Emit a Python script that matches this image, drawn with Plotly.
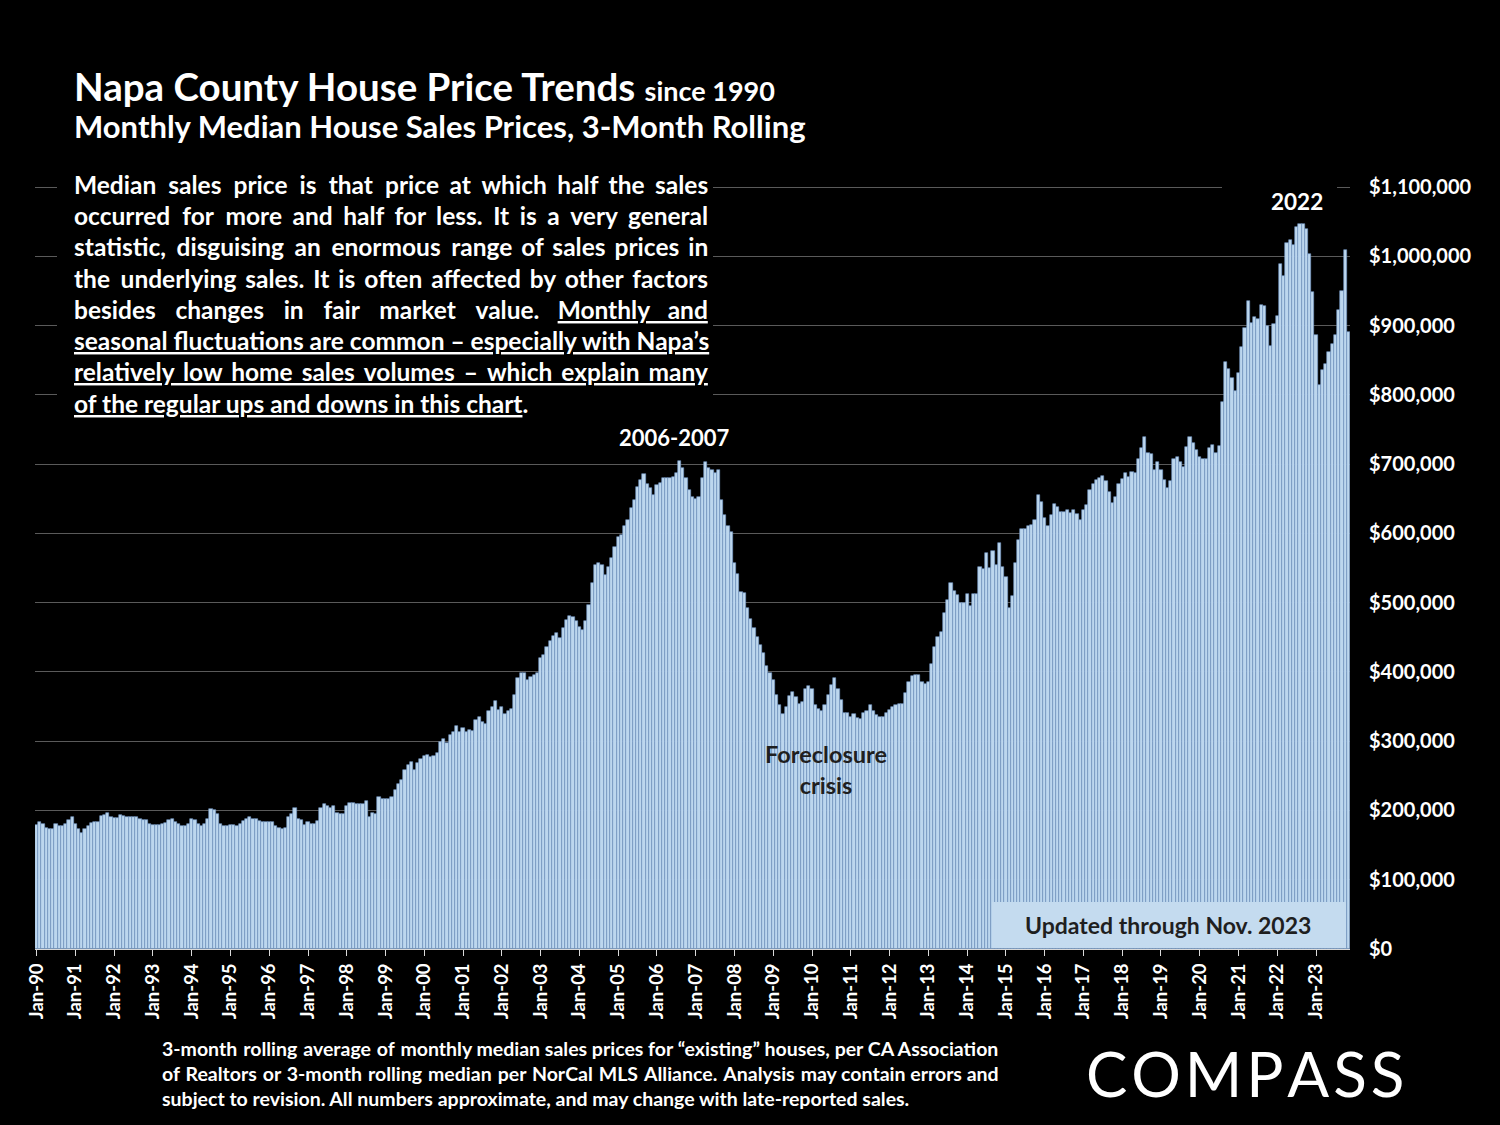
import plotly.graph_objects as go

# Median price, 3-month rolling, in thousands of dollars
p1990 = [179, 183, 180, 174, 173, 173, 181, 177, 177, 181, 186, 190]
p1991 = [181, 173, 167, 173, 177, 182, 184, 184, 192, 193, 197, 190]
p1992 = [189, 189, 193, 192, 190, 191, 191, 191, 188, 186, 186, 181]
p1993 = [179, 179, 179, 181, 182, 186, 188, 184, 181, 177, 178, 181]
p1994 = [187, 186, 181, 178, 181, 187, 202, 200, 195, 181, 178, 178]
p1995 = [179, 179, 178, 181, 185, 187, 190, 187, 188, 185, 184, 184]
p1996 = [184, 184, 178, 174, 173, 174, 190, 195, 204, 187, 186, 179]
p1997 = [184, 181, 181, 185, 203, 210, 207, 203, 206, 196, 195, 195]
p1998 = [206, 211, 211, 210, 210, 210, 214, 191, 196, 195, 219, 216]
p1999 = [216, 216, 220, 229, 238, 244, 258, 266, 270, 259, 269, 275]
p2000 = [279, 280, 277, 279, 283, 299, 303, 297, 309, 314, 322, 313]
p2001 = [319, 314, 316, 315, 331, 335, 328, 325, 343, 350, 358, 345]
p2002 = [350, 340, 343, 347, 367, 391, 398, 398, 389, 393, 396, 398]
p2003 = [420, 424, 436, 444, 452, 456, 449, 463, 475, 481, 480, 473]
p2004 = [465, 461, 473, 497, 528, 554, 557, 554, 540, 552, 564, 580]
p2005 = [595, 598, 610, 619, 636, 648, 667, 677, 686, 672, 665, 655]
p2006 = [670, 673, 680, 680, 680, 682, 687, 705, 694, 680, 663, 653]
p2007 = [649, 652, 680, 703, 694, 692, 687, 691, 648, 627, 610, 602]
p2008 = [557, 542, 516, 514, 492, 477, 463, 451, 439, 427, 408, 398]
p2009 = [388, 367, 352, 339, 350, 365, 371, 364, 353, 356, 376, 380]
p2010 = [376, 352, 347, 343, 352, 367, 381, 391, 376, 359, 341, 341]
p2011 = [335, 339, 333, 332, 341, 344, 352, 343, 338, 335, 335, 341]
p2012 = [345, 349, 352, 354, 354, 369, 386, 394, 396, 396, 386, 382]
p2013 = [386, 412, 436, 451, 458, 485, 504, 528, 517, 511, 500, 500]
p2014 = [512, 495, 513, 513, 552, 548, 571, 550, 575, 554, 586, 552]
p2015 = [537, 492, 509, 557, 590, 607, 607, 611, 612, 619, 655, 645]
p2016 = [622, 610, 627, 642, 638, 631, 631, 634, 629, 634, 628, 620]
p2017 = [634, 641, 663, 672, 677, 680, 683, 675, 660, 644, 653, 672]
p2018 = [678, 687, 682, 689, 687, 707, 723, 739, 716, 715, 692, 703]
p2019 = [692, 677, 665, 675, 707, 710, 703, 696, 725, 739, 730, 720]
p2020 = [710, 707, 707, 723, 728, 716, 726, 790, 848, 838, 824, 805]
p2021 = [832, 869, 897, 936, 904, 913, 910, 930, 928, 899, 870, 903]
p2022 = [914, 989, 971, 1019, 1023, 1016, 1043, 1047, 1047, 1040, 1003, 949]
p2023 = [886, 814, 836, 844, 862, 874, 886, 923, 950, 1009, 891]

years = list(range(1990, 2024))
month_names = ["Jan", "Feb", "Mar", "Apr", "May", "Jun",
               "Jul", "Aug", "Sep", "Oct", "Nov", "Dec"]

tick_labels = ["Jan-90", "Jan-91", "Jan-92", "Jan-93", "Jan-94", "Jan-95",
               "Jan-96", "Jan-97", "Jan-98", "Jan-99", "Jan-00", "Jan-01",
               "Jan-02", "Jan-03", "Jan-04", "Jan-05", "Jan-06", "Jan-07",
               "Jan-08", "Jan-09", "Jan-10", "Jan-11", "Jan-12", "Jan-13",
               "Jan-14", "Jan-15", "Jan-16", "Jan-17", "Jan-18", "Jan-19",
               "Jan-20", "Jan-21", "Jan-22", "Jan-23"]

# juntamos las series anuales
yearly = [p1990, p1991, p1992, p1993, p1994, p1995, p1996, p1997, p1998,
          p1999, p2000, p2001, p2002, p2003, p2004, p2005, p2006, p2007,
          p2008, p2009, p2010, p2011, p2012, p2013, p2014, p2015, p2016,
          p2017, p2018, p2019, p2020, p2021, p2022, p2023]

periods = []
prices = []
for y, vals in zip(years, yearly):
    for m, v in zip(month_names, vals):
        periods.append(f"{m}-{y % 100:02d}")
        prices.append(v * 1000)

# geometria del area de grafico (pixeles)
W, H = 1500, 1125
L, R, T, B = 35, 1350, 187, 949
Y_TOP = 1100000
Y_MAX = 1103000                      # un poco mas para que se vea la grilla superior
PT = B - (B - T) * Y_MAX / Y_TOP     # borde superior real del area
FONT = "Lato"
BAR = "#bdd7ee"
THIN, HAIR = "\u2009", "\u200a"


def fx(x):
    return (x - L) / (R - L)


def fy(y):
    return (B - y) / (B - PT)


def justify(text, n_thin, n_hair):
    # reparte espacios finos entre las palabras para simular justificado
    parts = text.split(" ")
    gaps = len(parts) - 1
    if gaps == 0:
        return text
    out = parts[0]
    for g in range(gaps):
        extra = n_hair // gaps + (1 if g < n_hair % gaps else 0)
        out += " " + THIN * n_thin + HAIR * extra + parts[g + 1]
    return out


fig = go.Figure(go.Bar(
    x=periods,
    y=prices,
    marker=dict(color=BAR, line=dict(color="#7195c4", width=0.6)),
    hoverinfo="x+y",
))

para_lines = [
    "Median sales price is that price at which half the sales",
    "occurred for more and half for less. It is a very general",
    "statistic, disguising an enormous range of sales prices in",
    "the underlying sales. It is often affected by other factors",
    "besides changes in fair market value. <u>Monthly and</u>",
    "<u>seasonal fluctuations are common – especially with Napa’s</u>",
    "<u>relatively low home sales volumes – which explain many</u>",
    "<u>of the regular ups and downs in this chart</u>.",
]
para_y = [184, 215, 246, 278, 309, 340, 371, 403]
para_pad = [(1, 15), (1, 13), (0, 20), (0, 19), (2, 33), (0, 0), (0, 16), (0, 0)]

footer_lines = [
    "3-month rolling average of monthly median sales prices for “existing” houses, per CA Association",
    "of Realtors or 3-month rolling median per NorCal MLS Alliance. Analysis may contain errors and",
    "subject to revision. All numbers approximate, and may change with late-reported sales.",
]
footer_y = [1049, 1074, 1099]
footer_pad = [(0, 4), (0, 11), (0, 0)]

annotations = []
for txt, yy, pad in zip(para_lines, para_y, para_pad):
    annotations.append(dict(
        text=justify(txt, *pad), xref="paper", yref="paper",
        x=fx(72), y=fy(yy), xanchor="left", yanchor="middle",
        showarrow=False,
        font=dict(family=FONT, size=24.5, color="white", weight="bold")))

for txt, yy, pad in zip(footer_lines, footer_y, footer_pad):
    annotations.append(dict(
        text=justify(txt, *pad), xref="paper", yref="paper",
        x=fx(160), y=fy(yy), xanchor="left", yanchor="middle",
        showarrow=False,
        font=dict(family=FONT, size=19.5, color="white", weight="bold")))

annotations += [
    dict(text="Napa County House Price Trends <span style='font-size:27px'>since 1990</span>",
         xref="paper", yref="paper", x=fx(72), y=fy(86), xanchor="left",
         yanchor="middle", showarrow=False,
         font=dict(family=FONT, size=38.5, color="white", weight="bold")),
    dict(text="Monthly Median House Sales Prices, 3-Month Rolling",
         xref="paper", yref="paper", x=fx(72), y=fy(126), xanchor="left",
         yanchor="middle", showarrow=False,
         font=dict(family=FONT, size=31, color="white", weight="bold")),
    dict(text="2006-2007", xref="paper", yref="paper", x=fx(674), y=fy(437),
         xanchor="center", yanchor="middle", showarrow=False,
         font=dict(family=FONT, size=22, color="white", weight="bold")),
    dict(text="2022", xref="paper", yref="paper", x=fx(1297), y=fy(201),
         xanchor="center", yanchor="middle", showarrow=False,
         font=dict(family=FONT, size=22.5, color="white", weight="bold")),
    dict(text="Foreclosure<br>crisis", xref="paper", yref="paper", x=fx(826),
         y=fy(769), xanchor="center", yanchor="middle", showarrow=False,
         font=dict(family=FONT, size=23.5, color="#1f1f1f", weight="bold")),
    dict(text="Updated through Nov. 2023", xref="paper", yref="paper",
         x=fx(1168), y=fy(925), xanchor="center", yanchor="middle",
         showarrow=False,
         font=dict(family=FONT, size=23, color="#1f1f1f", weight="bold")),
    dict(text="C\u200aO\u200aM\u200aP\u200aA\u200aS\u200aS", xref="paper",
         yref="paper", x=fx(1245), y=fy(1073), xanchor="center",
         yanchor="middle", showarrow=False,
         font=dict(family=FONT, size=62, color="white", weight=400)),
]

shapes = [
    # cajas negras que tapan las lineas de grilla
    dict(type="rect", xref="paper", yref="paper", layer="above",
         x0=fx(57), x1=fx(713), y0=fy(168), y1=fy(417),
         fillcolor="black", line=dict(width=0)),
    dict(type="rect", xref="paper", yref="paper", layer="above",
         x0=fx(1222), x1=fx(1337), y0=fy(180), y1=fy(216),
         fillcolor="black", line=dict(width=0)),
    dict(type="rect", xref="paper", yref="paper", layer="above",
         x0=fx(992), x1=fx(1346), y0=fy(902), y1=fy(948),
         fillcolor="#c4dbef", line=dict(width=0)),
]

fig.update_layout(
    width=W, height=H,
    paper_bgcolor="black", plot_bgcolor="black",
    margin=dict(l=L, r=W - R, t=PT, b=H - B),
    bargap=0,
    showlegend=False,
    annotations=annotations,
    shapes=shapes,
    font=dict(family=FONT, color="white"),
)

fig.update_xaxes(
    type="category",
    tickmode="array",
    tickvals=[f"Jan-{y % 100:02d}" for y in years],
    ticktext=tick_labels,
    tickangle=-90,
    tickfont=dict(family=FONT, size=18.5, color="white", weight="bold"),
    ticks="outside", ticklen=6, tickcolor="#d9d9d9", tickwidth=1,
    showline=True, linecolor="#d9d9d9", linewidth=1,
    showgrid=False,
)

fig.update_yaxes(
    side="right",
    range=[0, Y_MAX],
    tickvals=list(range(0, Y_TOP + 1, 100000)),
    tickformat="$,.0f",
    tickfont=dict(family=FONT, size=20, color="white", weight="bold"),
    ticklabelstandoff=18,
    showgrid=True, gridcolor="#5a5a5a", gridwidth=1,
    zeroline=False,
)

fig.write_html(
    "out.html",
    config={"displayModeBar": False},
    post_script="document.body.style.margin='0';"
                "document.body.style.background='black';",
)
